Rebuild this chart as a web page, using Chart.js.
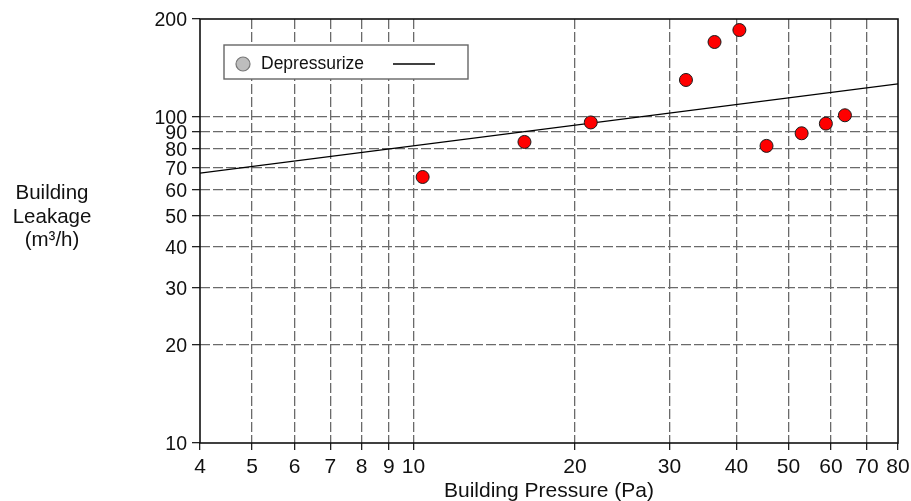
<!DOCTYPE html>
<html><head><meta charset="utf-8">
<script src="https://cdn.jsdelivr.net/npm/chart.js@4.4.1/dist/chart.umd.min.js"></script>
<style>html,body{margin:0;padding:0;background:#fff;}canvas{display:block;}</style>
</head><body>
<canvas id="c" width="911" height="501"></canvas>
<script>
// Data
const pressure = [10.4, 16.1, 21.4, 32.2, 36.4, 40.5, 45.5, 52.9, 58.7, 63.7];
const leakage  = [65.5, 83.9, 96.3, 130, 170, 185, 81.6, 89.2, 95.5, 101.3];
const fitPressure = [4, 80];
const fitLeakage  = [67.3, 126.5];
const xTicks = [4, 5, 6, 7, 8, 9, 10, 20, 30, 40, 50, 60, 70, 80];
const yTicks = [10, 20, 30, 40, 50, 60, 70, 80, 90, 100, 200];
const seriesName = 'Depressurize';
const xTitle = 'Building Pressure (Pa)';
const yTitleLines = ['Building', 'Leakage', '(m\u00B3/h)'];

const SANS = '"Liberation Sans", Arial, sans-serif';
const GRID = '#6a6a6a';

const decor = {
  id: 'decor',
  beforeDatasetsDraw(chart) {
    const {ctx, chartArea: a} = chart;
    ctx.save();
    ctx.strokeStyle = '#111';
    ctx.lineWidth = 1.6;
    ctx.strokeRect(a.left, a.top, a.right - a.left, a.bottom - a.top);
    ctx.restore();
  },
  afterDatasetsDraw(chart) {
    const {ctx} = chart;
    ctx.save();
    // legend box
    ctx.fillStyle = '#fff';
    ctx.fillRect(224, 45, 244, 34);
    ctx.strokeStyle = '#666';
    ctx.lineWidth = 1.4;
    ctx.strokeRect(224, 45, 244, 34);
    ctx.beginPath();
    ctx.arc(243, 64, 7, 0, Math.PI * 2);
    ctx.fillStyle = '#bdbdbd';
    ctx.fill();
    ctx.strokeStyle = '#777';
    ctx.lineWidth = 1.2;
    ctx.stroke();
    ctx.fillStyle = '#111';
    ctx.font = '17.5px ' + SANS;
    ctx.textAlign = 'left';
    ctx.textBaseline = 'alphabetic';
    ctx.fillText(seriesName, 261, 69);
    ctx.beginPath();
    ctx.moveTo(393, 64); ctx.lineTo(435, 64);
    ctx.strokeStyle = '#000';
    ctx.lineWidth = 1.3;
    ctx.stroke();
    ctx.restore();
  },
  afterDraw(chart) {
    const {ctx, chartArea: a} = chart;
    ctx.save();
    ctx.fillStyle = '#111';
    ctx.font = '20.5px ' + SANS;
    ctx.textAlign = 'center';
    ctx.textBaseline = 'alphabetic';
    const ys = [199, 222.5, 246];
    yTitleLines.forEach((t, i) => ctx.fillText(t, 52, ys[i]));
    ctx.font = '21px ' + SANS;
    ctx.fillText(xTitle, (a.left + a.right) / 2, 496.5);
    ctx.restore();
  }
};

const gridColor = (edges) => (c) => (c.tick && edges.includes(c.tick.value)) ? 'rgba(0,0,0,0)' : GRID;

new Chart(document.getElementById('c'), {
  type: 'scatter',
  data: {
    datasets: [
      {
        label: 'fit',
        type: 'line',
        data: fitPressure.map((x, i) => ({x, y: fitLeakage[i]})),
        borderColor: '#000',
        borderWidth: 1.3,
        pointRadius: 0,
        fill: false,
        order: 2
      },
      {
        label: seriesName,
        data: pressure.map((x, i) => ({x, y: leakage[i]})),
        backgroundColor: '#ff0000',
        borderColor: '#1a1a1a',
        borderWidth: 1,
        pointRadius: 6.5,
        pointHoverRadius: 6.5,
        order: 1
      }
    ]
  },
  options: {
    responsive: false,
    animation: false,
    events: [],
    layout: {padding: {top: 19, right: 13, left: 0, bottom: 0}},
    plugins: {legend: {display: false}, tooltip: {enabled: false}, title: {display: false}},
    scales: {
      x: {
        type: 'logarithmic',
        min: 4, max: 80,
        afterBuildTicks: (s) => { s.ticks = xTicks.map(v => ({value: v})); },
        afterFit: (s) => { s.height = 58; s.paddingLeft = 0; s.paddingRight = 0; },
        ticks: {
          autoSkip: false, maxRotation: 0, minRotation: 0,
          padding: 5,
          color: '#111',
          font: {family: SANS, size: 21},
          callback: (v) => String(v)
        },
        grid: {
          color: gridColor([4, 80]),
          lineWidth: 1.3,
          drawTicks: true,
          tickLength: 7,
          tickColor: '#222',
          tickWidth: 1.3,
          tickBorderDash: []
        },
        border: {display: false, dash: [10, 3]}
      },
      y: {
        type: 'logarithmic',
        min: 10, max: 200,
        afterBuildTicks: (s) => { s.ticks = yTicks.map(v => ({value: v})); },
        afterFit: (s) => { s.width = 200; s.paddingTop = 0; s.paddingBottom = 0; },
        ticks: {
          autoSkip: false,
          padding: 5,
          labelOffset: 2,
          color: '#111',
          font: {family: SANS, size: 19.5},
          callback: (v) => String(v)
        },
        grid: {
          color: gridColor([10, 200]),
          lineWidth: 1.3,
          drawTicks: true,
          tickLength: 8,
          tickColor: '#222',
          tickWidth: 1.3,
          tickBorderDash: []
        },
        border: {display: false, dash: [10, 3]}
      }
    }
  },
  plugins: [decor]
});
</script>
</body></html>
